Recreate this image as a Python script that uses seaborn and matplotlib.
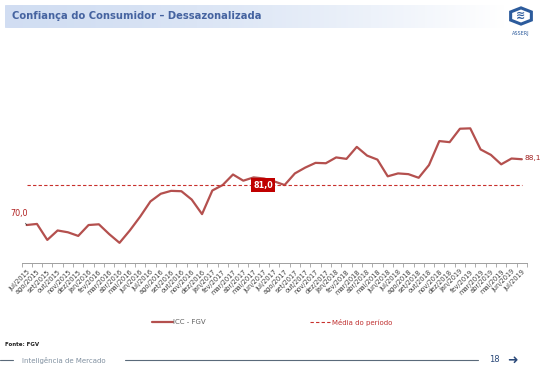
import numpy as np
import pandas as pd
import matplotlib
matplotlib.use("Agg")
import matplotlib.pyplot as plt
import seaborn as sns
from matplotlib.patches import FancyBboxPatch, RegularPolygon
from matplotlib.lines import Line2D

# dados
meses = ["jan", "fev", "mar", "abr", "mai", "jun", "jul", "ago", "set", "out", "nov", "dez"]
rotulos = []
for k in range(49):
    m = (6 + k) % 12
    a = 2015 + (6 + k) // 12
    rotulos.append(f"{meses[m]}/{a}")

icc = [70.0, 70.3, 65.9, 68.5, 68.0, 67.0, 70.0, 70.2, 67.5, 65.1,
       68.5, 72.3, 76.5, 78.6, 79.4, 79.3, 77.0, 73.0, 79.5, 81.0,
       83.9, 82.2, 83.1, 82.8, 82.0, 81.0, 84.2, 85.8, 87.1, 87.0,
       88.6, 88.2, 91.5, 89.1, 88.0, 83.4, 84.2, 84.0, 83.0, 86.5,
       93.1, 92.8, 96.5, 96.6, 90.8, 89.3, 86.7, 88.3, 88.1]
media = 81.0

df = pd.DataFrame({"mes": rotulos, "pos": range(len(rotulos)), "ICC - FGV": icc})
df["Média do período"] = media

sns.set_style("white")
plt.rcParams['font.family'] = ['DejaVu Sans']

W, H = 544, 369
fig = plt.figure(figsize=(W / 100, H / 100), dpi=100)

# eixo principal
ax = fig.add_axes([21.5 / W, 1 - 263 / H, 505.5 / W, 163 / H])
sns.lineplot(data=df, x="pos", y="ICC - FGV", ax=ax, color="#b4504e", lw=1.6, label="ICC - FGV")
sns.lineplot(data=df, x="pos", y="Média do período", ax=ax, color="#c8302c", lw=0.8,
             linestyle=(0, (3, 2)), label="Média do período")
ax.set_xlim(-0.5, len(rotulos) - 0.5)
ax.set_ylim(59.55, 104.4)
ax.set_xlabel("")
ax.set_ylabel("")
ax.set_yticks([])
ax.set_xticks(df["pos"])
ax.set_xticklabels(rotulos, rotation=45, ha="right", rotation_mode="anchor", fontsize=4.8, color="#404040")
ax.set_xticks(np.arange(-0.5, len(rotulos)), minor=True)
ax.tick_params(axis="x", which="major", length=0, pad=4)
ax.tick_params(axis="x", which="minor", length=3, color="#a0a0a0", width=0.6, direction="out", bottom=True)
for s in ["top", "left", "right"]:
    ax.spines[s].set_visible(False)
ax.spines["bottom"].set_color("#a0a0a0")
ax.spines["bottom"].set_linewidth(0.7)

# rótulos de dados
ax.annotate("70,0", xy=(0, icc[0]), xytext=(-0.7, 73.3), fontsize=5.8, color="#b02020",
            ha="center", va="center", arrowprops=dict(arrowstyle="-", color="#303030", lw=0.5))
ax.text(len(rotulos) - 1 + 0.3, icc[-1] + 0.3, "88,1", fontsize=5.3, color="#a02020", ha="left", va="center")
ax.text(22.9, media, "81,0", fontsize=5.8, color="white", fontweight="bold", ha="center", va="center",
        bbox=dict(boxstyle="square,pad=0.3", fc="#c00000", ec="none"))

# legenda
leg = ax.legend(loc="center", bbox_to_anchor=(272 / W, 1 - 322 / H), bbox_transform=fig.transFigure,
                ncol=2, frameon=False, fontsize=5, handlelength=3.0, columnspacing=15, handletextpad=0.1)
leg.get_texts()[0].set_color("#606060")
leg.get_texts()[1].set_color("#c03030")

# barra de título com gradiente
tax = fig.add_axes([5 / W, 1 - 28 / H, 500 / W, 23 / H])
tax.set_xlim(0, 1)
tax.set_ylim(0, 1)
tax.axis("off")
grad = np.linspace(0, 1, 256).reshape(1, -1)
c0 = np.array([0.82, 0.87, 0.95])
c1 = np.array([1.0, 1.0, 1.0])
img = c0[None, None, :] * (1 - grad[..., None] ** 1.6) + c1[None, None, :] * grad[..., None] ** 1.6
im = tax.imshow(img, extent=[0, 1, 0, 1], aspect="auto")
caixa = FancyBboxPatch((0, 0), 1, 1, boxstyle="round,pad=0,rounding_size=0.01", transform=tax.transAxes,
                       fc="none", ec="none")
tax.add_patch(caixa)
im.set_clip_path(caixa)
fig.text(12 / W, 1 - 16 / H, "Confiança do Consumidor – Dessazonalizada", fontsize=7.2, fontweight="bold",
         color="#4563a0", ha="left", va="center")

# logo
fig.patches.append(RegularPolygon((521 / W, 1 - 16 / H), 6, radius=0.022, transform=fig.transFigure,
                                  fc="white", ec="#2c5b9c", lw=2.2, orientation=0.0))
fig.text(521 / W, 1 - 16 / H, "≋", fontsize=8, color="#2c5b9c", ha="center", va="center", fontweight="bold")
fig.text(521 / W, 1 - 33 / H, "ASSERJ", fontsize=3.5, color="#2c5b9c", ha="center", va="center")

# rodapé
fig.text(5 / W, 1 - 345 / H, "Fonte: FGV", fontsize=4, fontweight="bold", color="#202020", ha="left", va="center")
fig.lines.append(Line2D([0, 13 / W], [1 - 360 / H] * 2, transform=fig.transFigure, color="#5a6a7a", lw=0.8))
fig.lines.append(Line2D([125 / W, 478 / W], [1 - 360 / H] * 2, transform=fig.transFigure, color="#5a6a7a", lw=0.8))
fig.text(22 / W, 1 - 360 / H, "Inteligência de Mercado", fontsize=5, color="#8090a0", ha="left", va="center")
fig.text(494 / W, 1 - 360 / H, "18", fontsize=6, color="#2c4a7a", ha="center", va="center")
fig.text(512 / W, 1 - 360 / H, "➜", fontsize=9, color="#2c4a7a", ha="center", va="center", fontweight="bold")

fig.savefig("out.png", dpi=100)
